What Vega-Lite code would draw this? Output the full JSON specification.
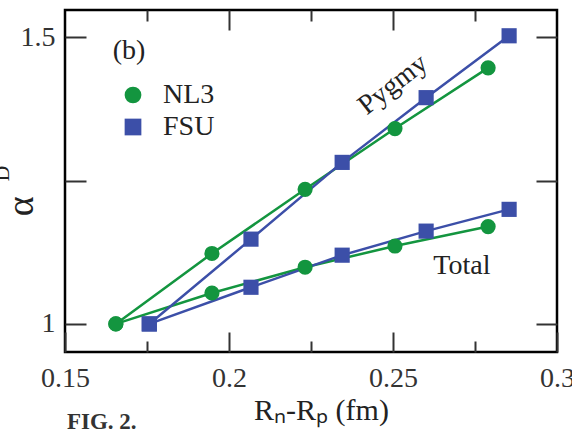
{
  "$schema": "https://vega.github.io/schema/vega-lite/v6.json",
  "width": 492,
  "height": 342,
  "autosize": {"type": "none"},
  "padding": {"left": 65, "top": 10, "right": 15, "bottom": 82},
  "background": "white",
  "config": {
    "font": "Liberation Serif",
    "view": {"stroke": "black", "strokeWidth": 2.5},
    "axis": {
      "grid": false,
      "domain": false,
      "tickColor": "#333",
      "tickWidth": 2,
      "labelFont": "Liberation Serif",
      "labelFontSize": 28,
      "labelColor": "#333",
      "labelFlush": false,
      "titleFont": "Liberation Serif",
      "titleFontWeight": "normal",
      "titleColor": "#222"
    },
    "legend": {
      "orient": "none",
      "legendX": 54,
      "legendY": 71,
      "padding": 0,
      "symbolSize": 280,
      "symbolStrokeWidth": 0,
      "labelFontSize": 28,
      "labelFont": "Liberation Serif",
      "labelColor": "#222",
      "labelOffset": 16,
      "rowPadding": 4
    }
  },
  "datasets": {
    "curves": [
      {"model": "NL3", "kind": "Pygmy", "x": 0.1655, "y": 1.0},
      {"model": "NL3", "kind": "Pygmy", "x": 0.1948, "y": 1.123},
      {"model": "NL3", "kind": "Pygmy", "x": 0.2232, "y": 1.235},
      {"model": "NL3", "kind": "Pygmy", "x": 0.2506, "y": 1.341},
      {"model": "NL3", "kind": "Pygmy", "x": 0.279, "y": 1.447},
      {"model": "NL3", "kind": "Total", "x": 0.1655, "y": 1.0},
      {"model": "NL3", "kind": "Total", "x": 0.1948, "y": 1.054},
      {"model": "NL3", "kind": "Total", "x": 0.2232, "y": 1.099},
      {"model": "NL3", "kind": "Total", "x": 0.2506, "y": 1.136},
      {"model": "NL3", "kind": "Total", "x": 0.279, "y": 1.17},
      {"model": "FSU", "kind": "Pygmy", "x": 0.1757, "y": 1.0},
      {"model": "FSU", "kind": "Pygmy", "x": 0.2067, "y": 1.148},
      {"model": "FSU", "kind": "Pygmy", "x": 0.2345, "y": 1.282},
      {"model": "FSU", "kind": "Pygmy", "x": 0.2601, "y": 1.395},
      {"model": "FSU", "kind": "Pygmy", "x": 0.2854, "y": 1.503},
      {"model": "FSU", "kind": "Total", "x": 0.1757, "y": 1.0},
      {"model": "FSU", "kind": "Total", "x": 0.2067, "y": 1.064},
      {"model": "FSU", "kind": "Total", "x": 0.2345, "y": 1.12},
      {"model": "FSU", "kind": "Total", "x": 0.2601, "y": 1.162},
      {"model": "FSU", "kind": "Total", "x": 0.2854, "y": 1.2}
    ],
    "notes": [
      {"label": "(b)", "x": 0.1695, "y": 1.4626},
      {"label": "Total", "x": 0.271, "y": 1.087}
    ],
    "pygmy": [{"label": "Pygmy", "x": 0.25, "y": 1.4174}],
    "fig": [{"label": "FIG. 2.", "x": 0.1506, "y": 0.8174}],
    "alpha": [{"label": "α", "x": 0.1369, "y": 1.2052}],
    "sub": [{"label": "D", "x": 0.1308, "y": 1.2626}]
  },
  "resolve": {"axis": {"x": "independent", "y": "independent"}},
  "layer": [
    {
      "data": {"name": "curves"},
      "mark": {"type": "line", "strokeWidth": 2.5, "clip": false},
      "encoding": {
        "x": {
          "field": "x", "type": "quantitative",
          "scale": {"domain": [0.15, 0.3], "nice": false, "zero": false},
          "axis": {
            "orient": "bottom", "values": [0.15, 0.2, 0.25, 0.3], "format": ".3~f",
            "tickSize": -20, "labelPadding": 32,
            "title": "Rₙ-Rₚ (fm)", "titleFontSize": 30, "titleX": 256, "titleY": 67,
            "titleBaseline": "alphabetic", "titleAnchor": null
          }
        },
        "y": {
          "field": "y", "type": "quantitative",
          "scale": {"domain": [0.951, 1.548], "nice": false, "zero": false},
          "axis": {
            "orient": "left", "values": [1, 1.25, 1.5], "format": ".3~f",
            "labelExpr": "datum.value == 1.25 ? '' : datum.label",
            "tickSize": -21, "labelPadding": 31, "title": null
          }
        },
        "stroke": {
          "field": "model", "type": "nominal",
          "scale": {"domain": ["FSU", "NL3"], "range": ["#3c4fa8", "#13953f"]},
          "legend": null
        },
        "detail": {"field": "kind"}
      }
    },
    {
      "data": {"name": "curves"},
      "mark": {"type": "point", "filled": true, "opacity": 1, "size": 230, "clip": false},
      "encoding": {
        "x": {
          "field": "x", "type": "quantitative",
          "scale": {"domain": [0.15, 0.3], "nice": false, "zero": false},
          "axis": {"orient": "bottom", "values": [0.175, 0.225, 0.275], "tickSize": -11, "labels": false, "title": null}
        },
        "y": {
          "field": "y", "type": "quantitative",
          "scale": {"domain": [0.951, 1.548], "nice": false, "zero": false},
          "axis": {"orient": "right", "values": [1, 1.25, 1.5], "tickSize": -21, "labels": false, "title": null}
        },
        "color": {
          "field": "model", "type": "nominal",
          "scale": {"domain": ["NL3", "FSU"], "range": ["#13953f", "#3c4fa8"]},
          "legend": {"title": null}
        },
        "shape": {
          "field": "model", "type": "nominal",
          "scale": {"domain": ["NL3", "FSU"], "range": ["circle", "square"]},
          "legend": {"title": null}
        }
      }
    },
    {
      "data": {"name": "notes"},
      "mark": {"type": "text", "fontSize": 28, "font": "Liberation Serif", "color": "#222", "align": "center", "baseline": "alphabetic", "clip": false},
      "encoding": {
        "x": {
          "field": "x", "type": "quantitative",
          "scale": {"domain": [0.15, 0.3], "nice": false, "zero": false},
          "axis": {"orient": "top", "values": [0.2, 0.25], "tickSize": -20, "labels": false, "title": null}
        },
        "y": {
          "field": "y", "type": "quantitative",
          "scale": {"domain": [0.951, 1.548], "nice": false, "zero": false},
          "axis": null
        },
        "text": {"field": "label"}
      }
    },
    {
      "data": {"name": "pygmy"},
      "mark": {"type": "text", "fontSize": 28, "font": "Liberation Serif", "color": "#222", "align": "center", "baseline": "middle", "angle": -38, "clip": false},
      "encoding": {
        "x": {
          "field": "x", "type": "quantitative",
          "scale": {"domain": [0.15, 0.3], "nice": false, "zero": false},
          "axis": {"orient": "top", "values": [0.175, 0.225, 0.275], "tickSize": -11, "labels": false, "title": null}
        },
        "y": {
          "field": "y", "type": "quantitative",
          "scale": {"domain": [0.951, 1.548], "nice": false, "zero": false},
          "axis": null
        },
        "text": {"field": "label"}
      }
    },
    {
      "data": {"name": "fig"},
      "mark": {"type": "text", "fontSize": 23, "fontWeight": "bold", "font": "Liberation Serif", "color": "#333", "align": "left", "baseline": "alphabetic", "clip": false},
      "encoding": {
        "x": {"field": "x", "type": "quantitative", "scale": {"domain": [0.15, 0.3], "nice": false, "zero": false}, "axis": null},
        "y": {"field": "y", "type": "quantitative", "scale": {"domain": [0.951, 1.548], "nice": false, "zero": false}, "axis": null},
        "text": {"field": "label"}
      }
    },
    {
      "data": {"name": "alpha"},
      "mark": {"type": "text", "fontSize": 38, "font": "Liberation Serif", "color": "#222", "align": "center", "baseline": "middle", "angle": -90, "clip": false},
      "encoding": {
        "x": {"field": "x", "type": "quantitative", "scale": {"domain": [0.15, 0.3], "nice": false, "zero": false}, "axis": null},
        "y": {"field": "y", "type": "quantitative", "scale": {"domain": [0.951, 1.548], "nice": false, "zero": false}, "axis": null},
        "text": {"field": "label"}
      }
    },
    {
      "data": {"name": "sub"},
      "mark": {"type": "text", "fontSize": 22, "font": "Liberation Serif", "color": "#222", "align": "center", "baseline": "middle", "angle": -90, "clip": false},
      "encoding": {
        "x": {"field": "x", "type": "quantitative", "scale": {"domain": [0.15, 0.3], "nice": false, "zero": false}, "axis": null},
        "y": {"field": "y", "type": "quantitative", "scale": {"domain": [0.951, 1.548], "nice": false, "zero": false}, "axis": null},
        "text": {"field": "label"}
      }
    }
  ]
}
